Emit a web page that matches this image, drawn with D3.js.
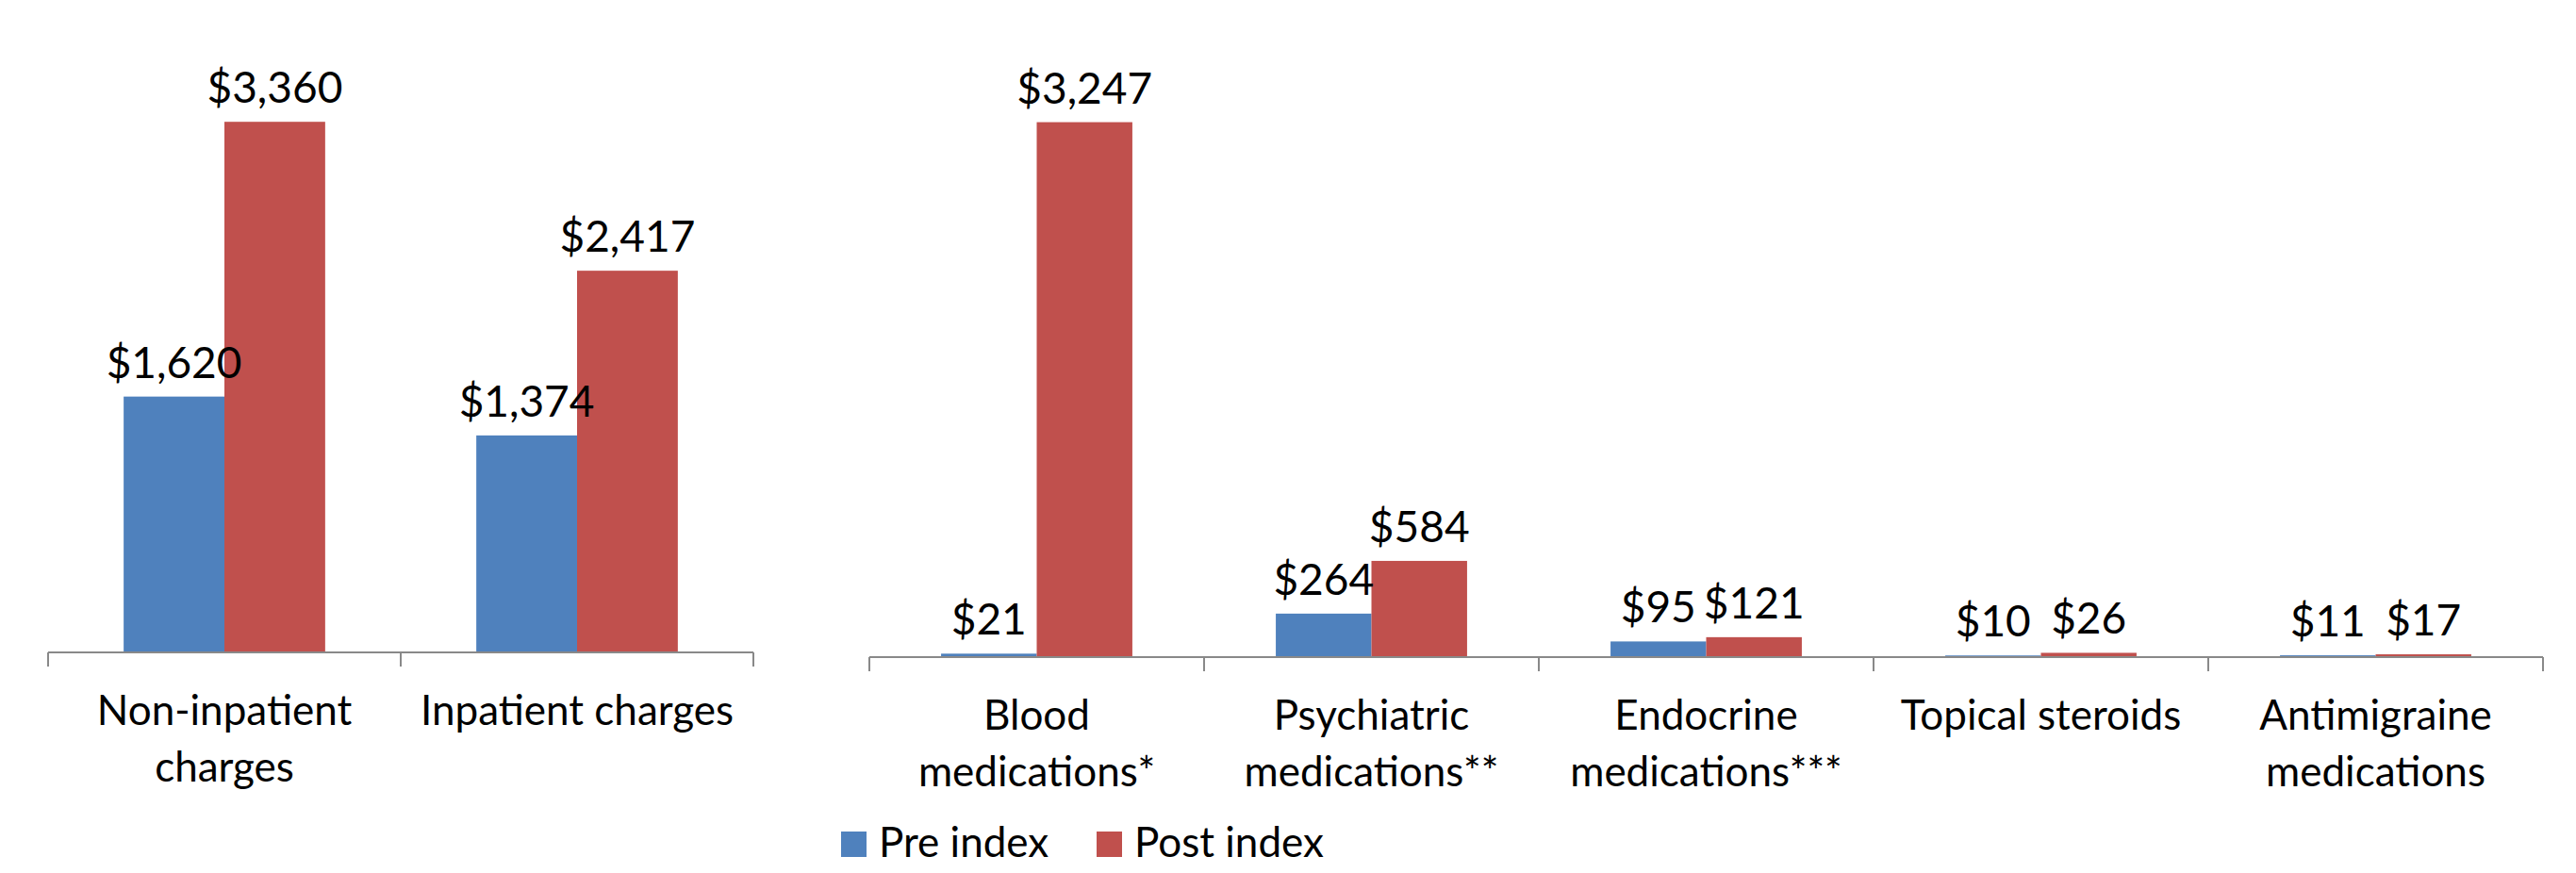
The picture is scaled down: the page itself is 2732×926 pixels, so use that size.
<!DOCTYPE html>
<html>
<head>
<meta charset="utf-8">
<script src="https://cdn.jsdelivr.net/npm/d3@7"></script>
<style>
  body { margin: 0; background: #fff; }
  text { font-family: Lato, "Open Sans", sans-serif; fill: #000; }
</style>
</head>
<body>
<div id="chart"></div>
<script>
// data
var seriesNames = ["Pre index", "Post index"];
var chargeCats = ["Non-inpatient charges", "Inpatient charges"];
var chargePre = [1620, 1374];
var chargePost = [3360, 2417];
var medCats = ["Blood medications*", "Psychiatric medications**", "Endocrine medications***", "Topical steroids", "Antimigraine medications"];
var medPre = [21, 264, 95, 10, 11];
var medPost = [3247, 584, 121, 26, 17];

(function() {
  var width = 2732, height = 926;
  var colors = d3.scaleOrdinal().domain(seriesNames).range(["#4F81BD", "#C0504D"]);
  var money = d3.format("$,.0f");
  var fontSize = 44;

  var svg = d3.select("#chart")
    .append("svg")
    .attr("width", width)
    .attr("height", height);

  // each panel is its own little excel-ish clustered column chart
  function panel(cats, pre, post, xRange, yRange, yMax) {
    var rows = cats.map(function(c, i) {
      return { cat: c, values: [
        { key: seriesNames[0], value: pre[i] },
        { key: seriesNames[1], value: post[i] }
      ]};
    });

    var x0 = d3.scaleBand().domain(cats).range(xRange).padding(0);
    // gap width 150% -> outer padding of 0.75 step on each side
    var x1 = d3.scaleBand().domain(seriesNames).range([0, x0.bandwidth()])
      .paddingInner(0).paddingOuter(0.75);
    var y = d3.scaleLinear().domain([0, yMax]).range(yRange);
    var base = y(0);

    var g = svg.append("g");

    var groups = g.selectAll(".grp")
      .data(rows)
      .enter().append("g")
      .attr("class", "grp")
      .attr("transform", function(d) { return "translate(" + x0(d.cat) + ",0)"; });

    groups.selectAll("rect")
      .data(function(d) { return d.values; })
      .enter().append("rect")
      .attr("x", function(d) { return x1(d.key); })
      .attr("width", x1.bandwidth())
      .attr("y", function(d) { return y(d.value); })
      .attr("height", function(d) { return base - y(d.value); })
      .attr("fill", function(d) { return colors(d.key); });

    groups.selectAll(".val")
      .data(function(d) { return d.values; })
      .enter().append("text")
      .attr("class", "val")
      .attr("x", function(d) { return x1(d.key) + x1.bandwidth() / 2; })
      .attr("y", function(d) { return y(d.value) - 20; })
      .attr("text-anchor", "middle")
      .style("font-size", "46px")
      .text(function(d) { return money(d.value); });

    // category axis, ticks sit between the categories
    var edges = cats.map(function(c) { return x0(c); }).concat([xRange[1]]);
    g.append("line")
      .attr("x1", xRange[0]).attr("x2", xRange[1])
      .attr("y1", base).attr("y2", base)
      .attr("stroke", "#898989").attr("stroke-width", 2);
    g.selectAll(".tick")
      .data(edges)
      .enter().append("line")
      .attr("class", "tick")
      .attr("x1", function(d) { return d; }).attr("x2", function(d) { return d; })
      .attr("y1", base).attr("y2", base + 15)
      .attr("stroke", "#898989").attr("stroke-width", 2);

    var labels = g.selectAll(".cat")
      .data(cats)
      .enter().append("text")
      .attr("class", "cat")
      .attr("text-anchor", "middle")
      .style("font-size", fontSize + "px")
      .attr("transform", function(d) {
        return "translate(" + (x0(d) + x0.bandwidth() / 2) + "," + (base + 77) + ")";
      });
    labels.each(function(d) { wrap(d3.select(this), d, x0.bandwidth() - 8); });
  }

  function wrap(text, str, maxW) {
    var words = str.split(" "), line = [], lineNo = 0;
    var tspan = text.append("tspan").attr("x", 0).attr("dy", 0);
    words.forEach(function(w) {
      line.push(w);
      tspan.text(line.join(" "));
      if (tspan.node().getComputedTextLength() > maxW && line.length > 1) {
        line.pop();
        tspan.text(line.join(" "));
        line = [w];
        lineNo++;
        tspan = text.append("tspan").attr("x", 0).attr("dy", 60).text(w);
      }
    });
  }

  panel(chargeCats, chargePre, chargePost, [51, 799], [692, 22], 4000);
  panel(medCats, medPre, medPost, [922, 2697], [697, -2], 4000);

  // legend
  var legend = svg.append("g").attr("transform", "translate(892,882)");
  var item = legend.selectAll(".item")
    .data(seriesNames)
    .enter().append("g")
    .attr("class", "item")
    .attr("transform", function(d, i) { return "translate(" + (i * 271) + ",0)"; });
  item.append("rect")
    .attr("width", 27).attr("height", 27)
    .attr("fill", function(d) { return colors(d); });
  item.append("text")
    .attr("x", 40).attr("y", 27)
    .style("font-size", fontSize + "px")
    .text(function(d) { return d; });
})();
</script>
</body>
</html>
